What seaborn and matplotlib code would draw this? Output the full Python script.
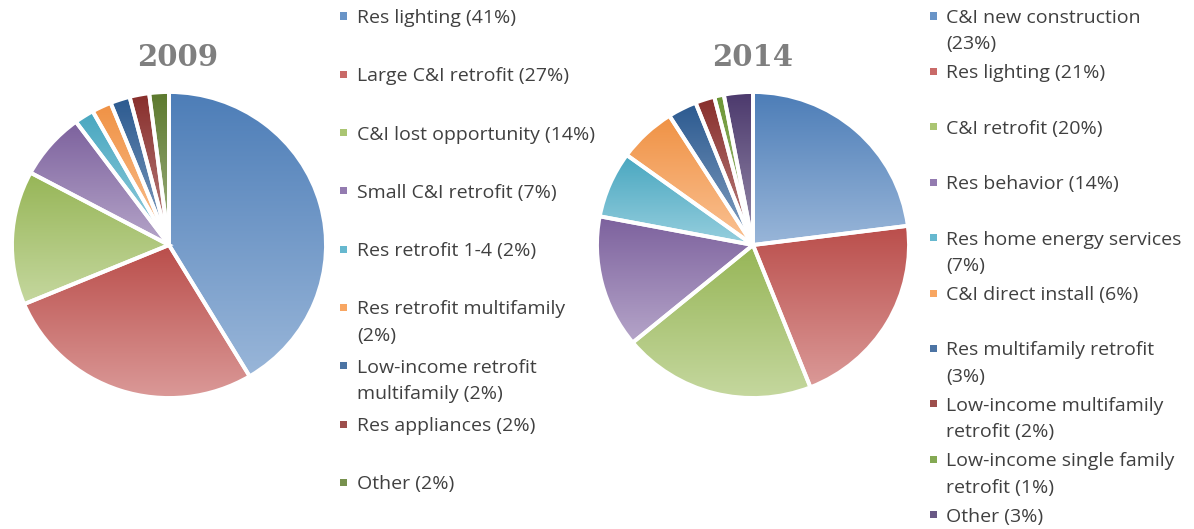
import numpy as np
import matplotlib
matplotlib.use("Agg")
import matplotlib.pyplot as plt
import seaborn as sns
from matplotlib.colors import LinearSegmentedColormap, to_rgb
from matplotlib.patches import Rectangle

# ---------------- data ----------------
labels_2009 = ["Res lighting (41%)", "Large C&I retrofit (27%)", "C&I lost opportunity (14%)",
               "Small C&I retrofit (7%)", "Res retrofit 1-4 (2%)", "Res retrofit multifamily\n(2%)",
               "Low-income retrofit\nmultifamily (2%)", "Res appliances (2%)", "Other (2%)"]
values_2009 = [41, 27, 14, 7, 2, 2, 2, 2, 2]

labels_2014 = ["C&I new construction\n(23%)", "Res lighting (21%)", "C&I retrofit (20%)",
               "Res behavior (14%)", "Res home energy services\n(7%)", "C&I direct install (6%)",
               "Res multifamily retrofit\n(3%)", "Low-income multifamily\nretrofit (2%)",
               "Low-income single family\nretrofit (1%)", "Other (3%)"]
values_2014 = [23, 21, 20, 14, 7, 6, 3, 2, 1, 3]

titles = ["2009", "2014"]

colors_2009 = ["#4F81BD", "#C0504D", "#9BBB59", "#8064A2", "#4BACC6", "#F79646",
               "#2C5C94", "#8C2F2C", "#5F7D2F"]
colors_2014 = ["#4F81BD", "#C0504D", "#9BBB59", "#8064A2", "#4BACC6", "#F79646",
               "#2C5C94", "#8C2F2C", "#6E9A35", "#4E3B70"]

# ---------------- style ----------------
sns.set_theme(style="white")
plt.rcParams["font.family"] = ["Open Sans", "DejaVu Sans"]

W, H = 1194, 529
fig = plt.figure(figsize=(W / 100, H / 100), dpi=100)
fig.patch.set_facecolor("white")


def mix(c, other, t):
    c = np.array(to_rgb(c)); o = np.array(to_rgb(other))
    return tuple(c * (1 - t) + o * t)


def draw_pie(cx, cy, rh, rv, values, colors):
    ax = fig.add_axes([(cx - rh) / W, (H - cy - rv) / H, 2 * rh / W, 2 * rv / H])
    wedges, _ = ax.pie(values, colors=colors, startangle=90, counterclock=False,
                       radius=1.0, wedgeprops=dict(edgecolor="white", linewidth=2.8))
    grad = np.linspace(0, 1, 256).reshape(-1, 1)
    for w, c in zip(wedges, colors):
        ext = w.get_path().get_extents()
        cmap = LinearSegmentedColormap.from_list("g", [mix(c, "black", 0.03), mix(c, "white", 0.42)])
        im = ax.imshow(grad, cmap=cmap, extent=[ext.x0, ext.x1, ext.y0, ext.y1],
                       origin="upper", aspect="auto", zorder=1, interpolation="bilinear")
        im.set_clip_path(w)
        w.set_facecolor("none")
        w.set_zorder(2)
    ax.set_aspect("auto")
    ax.set_xlim(-1.0, 1.0)
    ax.set_ylim(-1.0, 1.0)
    ax.axis("off")
    return ax


def draw_legend(x_marker, x_text, y0, step, labels, colors, line_gap=26.5):
    for i, (lab, c) in enumerate(zip(labels, colors)):
        y = y0 + i * step
        fig.patches.append(Rectangle(((x_marker - 3.5) / W, 1 - (y - 2 + 3.5) / H), 7 / W, 7 / H,
                                     transform=fig.transFigure, facecolor=mix(c, "white", 0.15),
                                     edgecolor="none"))
        for k, line in enumerate(lab.split("\n")):
            fig.text(x_text / W, 1 - (y + k * line_gap) / H, line, ha="left", va="center",
                     fontsize=14, color="#404040")


draw_pie(169, 245, 157, 153, values_2009, colors_2009)
draw_pie(753, 245, 156, 153, values_2014, colors_2014)

fig.text(178 / W, 1 - 58 / H, titles[0], ha="center", va="center", fontsize=21,
         fontweight="bold", family=["DejaVu Serif"], color="#7F7F7F")
fig.text(753 / W, 1 - 58 / H, titles[1], ha="center", va="center", fontsize=21,
         fontweight="bold", family=["DejaVu Serif"], color="#7F7F7F")

draw_legend(343, 357, 18, 58.3, labels_2009, colors_2009)
draw_legend(933, 946, 18, 55.4, labels_2014, colors_2014)

fig.savefig("out.png", dpi=100, facecolor="white")
